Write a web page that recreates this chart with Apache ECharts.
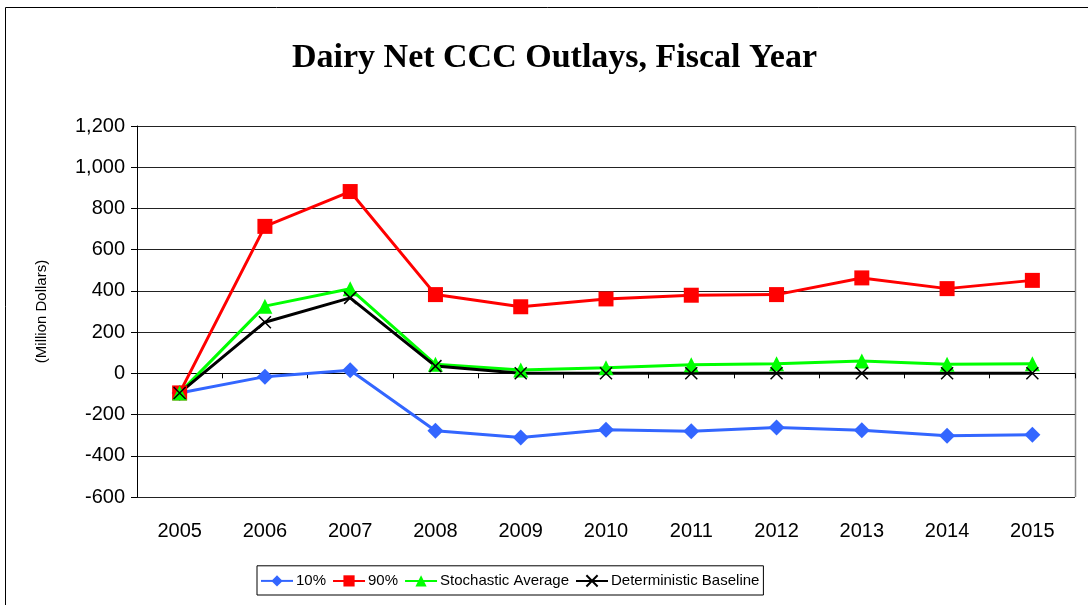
<!DOCTYPE html>
<html>
<head>
<meta charset="utf-8">
<script src="https://cdn.jsdelivr.net/npm/echarts@6/dist/echarts.min.js"></script>
<style>
  html, body { margin: 0; padding: 0; background: #fff; }
  #chart { width: 1088px; height: 605px; }
</style>
</head>
<body>
<div id="chart"></div>
<script>
(function () {
    let chart = echarts.init(document.getElementById('chart'));

    // fiscal years
    let years = ['2005', '2006', '2007', '2008', '2009', '2010', '2011', '2012', '2013', '2014', '2015'];

    // million dollars
    let pct10 = [-95, -16, 15, -279, -311, -274, -281, -263, -276, -303, -298];
    let pct90 = [-95, 713, 882, 382, 323, 361, 379, 382, 463, 411, 451];
    let stochAvg = [-95, 326, 410, 44, 16, 27, 42, 47, 60, 44, 47];
    let detBase = [-95, 248, 366, 35, 0, 0, 0, 0, 0, 0, 0];

    let yTicks = { min: -600, max: 1200, interval: 200 };

    let crossPath = 'path://M0,0L10,10M10,0L0,10';

    function lineSeries(name, data, color, symbol, size, extra) {
        let s = {
            name: name,
            type: 'line',
            data: data,
            symbol: symbol,
            symbolSize: size,
            showAllSymbol: true,
            lineStyle: { color: color, width: 3 },
            itemStyle: { color: color },
            animation: false
        };
        return Object.assign(s, extra || {});
    }

    let option = {
        backgroundColor: '#fff',
        title: {
            text: 'Dairy Net CCC Outlays, Fiscal Year',
            left: 287,
            top: 36,
            textStyle: {
                fontFamily: 'Liberation Serif',
                fontWeight: 'bold',
                fontSize: 34,
                color: '#000'
            }
        },
        legend: {
            bottom: 10,
            left: 257,
            padding: [7, 4, 6, 3],
            borderColor: '#000',
            borderWidth: 1,
            itemGap: 6,
            itemWidth: 32,
            itemHeight: 14,
            textStyle: { fontFamily: 'Liberation Sans', fontSize: 15, color: '#000', padding: [0, 0, 0, -2] },
            data: ['10%', '90%', 'Stochastic Average', 'Deterministic Baseline']
        },
        grid: { left: 137, right: 13, top: 126, bottom: 108, containLabel: false },
        xAxis: [
            {
                // axis line sits on zero, ticks hang below it
                type: 'category',
                data: years,
                position: 'bottom',
                axisLine: { show: true, onZero: true, lineStyle: { color: '#000', width: 1 } },
                axisTick: { show: true, length: 5, lineStyle: { color: '#000' } },
                axisLabel: { show: false }
            },
            {
                // year labels stay at the bottom of the plot
                type: 'category',
                data: years,
                position: 'bottom',
                axisLine: { show: false, onZero: false },
                axisTick: { show: false },
                axisLabel: { fontFamily: 'Liberation Sans', fontSize: 20, color: '#000', margin: 24 }
            }
        ],
        yAxis: {
            type: 'value',
            min: yTicks.min,
            max: yTicks.max,
            interval: yTicks.interval,
            name: '(Million Dollars)',
            nameLocation: 'middle',
            nameGap: 88,
            nameTextStyle: { fontFamily: 'Liberation Sans', fontSize: 15, color: '#000' },
            axisLine: { show: true, lineStyle: { color: '#000' } },
            axisTick: { show: true, length: 6, inside: false, lineStyle: { color: '#000' } },
            axisLabel: {
                fontFamily: 'Liberation Sans',
                fontSize: 20,
                color: '#000',
                margin: 12,
                formatter: function (v) { return v.toLocaleString('en-US'); }
            },
            splitLine: { show: true, lineStyle: { color: '#222', width: 1 } }
        },
        graphic: [
            {
                type: 'rect',
                shape: { x: 5.5, y: 7.5, width: 1100, height: 700 },
                style: { fill: 'none', stroke: '#000', lineWidth: 1 },
                silent: true
            },
            {
                type: 'line',
                shape: { x1: 1075.5, y1: 126, x2: 1075.5, y2: 497 },
                style: { stroke: '#888', lineWidth: 1.5 },
                silent: true
            }
        ],
        series: [
            lineSeries('10%', pct10, '#3366FF', 'diamond', 16),
            lineSeries('90%', pct90, '#FF0000', 'rect', 15),
            lineSeries('Stochastic Average', stochAvg, '#00FF00', 'triangle', 15),
            lineSeries('Deterministic Baseline', detBase, '#000000', crossPath, 12, {
                itemStyle: { color: 'none', borderColor: '#000', borderWidth: 1.5 },
                z: 3
            })
        ]
    };

    chart.setOption(option);
})();
</script>
</body>
</html>
